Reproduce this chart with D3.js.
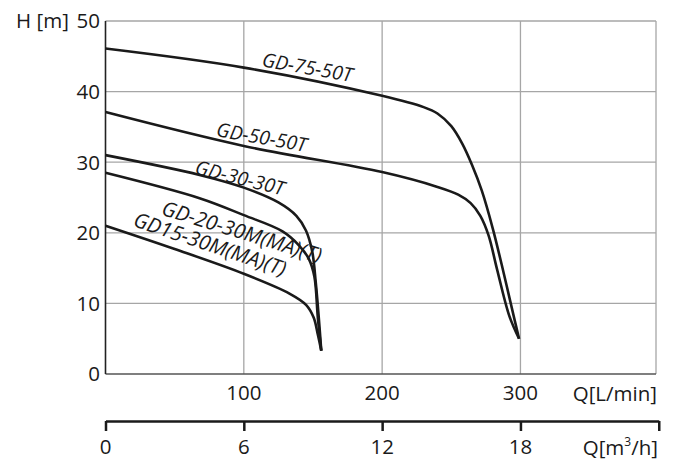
<!DOCTYPE html>
<html>
<head>
<meta charset="utf-8">
<script src="https://cdn.jsdelivr.net/npm/d3@7"></script>
<style>
  html, body { margin: 0; padding: 0; background: #fff; }
  svg { display: block; }
  text { font-family: "Open Sans", "DejaVu Sans", sans-serif; fill: #1a1a1a; }
</style>
</head>
<body>
<svg id="chart" width="676" height="461"></svg>
<script>
// ---- data ----
const hTicks = [0, 10, 20, 30, 40, 50];
const qLminTicks = [100, 200, 300];
const qM3hTicks = [0, 6, 12, 18, 24];
const qM3hLabels = ["0", "6", "12", "18", ""];

const gd75_50T = [[0,46.1],[100,43.4],[200,39.4],[230,37.8],[240,36.9],[250,35.1],[258,32.6],[265,29.6],[272,26.0],[280,20.6],[288,14.2],[295,8.3],[299,5.0]];
const gd50_50T = [[0,37.1],[100,32.3],[200,28.6],[240,26.5],[255,25.4],[264,24.2],[271,22.4],[277,19.6],[283,14.9],[292,8.2],[299,5.0]];
const gd30_30T = [[0,31.0],[68,28.2],[100,26.4],[125,24.3],[138,22.4],[145,20.3],[149.5,17.3],[152,13.0],[154,8.5],[156,3.3]];
const gd20_30M = [[0,28.5],[68,24.9],[100,22.5],[128,20.2],[140,18.2],[147,16.3],[151,13.8],[153.5,8.0],[156,3.3]];
const gd15_30M = [[0,21.0],[50,17.7],[100,14.2],[133,11.4],[145,9.8],[150.5,8.0],[153.5,5.6],[156,3.3]];

const seriesNames = ["GD-75-50T", "GD-50-50T", "GD-30-30T", "GD-20-30M(MA)(T)", "GD15-30M(MA)(T)"];
const seriesData = [gd75_50T, gd50_50T, gd30_30T, gd20_30M, gd15_30M];
// label anchor (in data units), rotation and size
const labelQ = [112.6, 79.6, 64.0, 39.8, 19.3];
const labelH = [43.6, 33.7, 28.4, 22.6, 21.0];
const labelAngle = [10, 10, 14, 17, 18.5];
const labelSize = [19.5, 19.5, 19.5, 20.6, 20.6];

// ---- layout ----
const svg = d3.select("#chart");
const x = d3.scaleLinear().domain([0, 398]).range([105.5, 656]);
const y = d3.scaleLinear().domain([0, 50]).range([374, 21]);
const xm = d3.scaleLinear().domain([0, 24]).range([x(0), x(400)]);
const axis2Y = 421;

// grid
const grid = svg.append("g");
grid.selectAll("line.h").data(hTicks.filter(d => d > 0)).join("line")
  .attr("x1", x(0)).attr("x2", x(398))
  .attr("y1", d => y(d)).attr("y2", d => y(d))
  .attr("stroke", "#a6a6a6").attr("stroke-width", 1.3);
grid.selectAll("line.v").data(qLminTicks.concat([398])).join("line")
  .attr("x1", d => x(d)).attr("x2", d => x(d))
  .attr("y1", y(0)).attr("y2", y(50))
  .attr("stroke", "#a6a6a6").attr("stroke-width", 1.3);
// bottom and left axis lines
svg.append("line").attr("x1", x(0)).attr("x2", x(398)).attr("y1", y(0)).attr("y2", y(0))
  .attr("stroke", "#555").attr("stroke-width", 1.5);
svg.append("line").attr("x1", x(0)).attr("x2", x(0)).attr("y1", y(0)).attr("y2", y(50))
  .attr("stroke", "#222").attr("stroke-width", 1.6);

// y tick labels
svg.append("g").selectAll("text").data(hTicks).join("text")
  .attr("x", 100).attr("y", d => y(d)).attr("dy", "0.36em")
  .attr("text-anchor", "end").attr("font-size", 20.5).text(d => d);
svg.append("text").attr("x", 16).attr("y", y(50)).attr("dy", "0.36em")
  .attr("font-size", 20.5).text("H [m]");

// x tick labels (L/min)
svg.append("g").selectAll("text").data(qLminTicks).join("text")
  .attr("x", d => x(d)).attr("y", 400).attr("text-anchor", "middle")
  .attr("font-size", 20.5).text(d => d);
svg.append("text").attr("x", 657).attr("y", 401).attr("text-anchor", "end")
  .attr("font-size", 20.5).text("Q[L/min]");

// second axis (m3/h)
const ax2 = d3.axisBottom(xm).tickValues(qM3hTicks).tickSize(10).tickSizeOuter(0).tickFormat("");
const g2 = svg.append("g").attr("transform", `translate(0,${axis2Y})`).call(ax2);
g2.select(".domain").attr("stroke", "#1a1a1a").attr("stroke-width", 2.5);
g2.selectAll(".tick line").attr("stroke", "#1a1a1a").attr("stroke-width", 2.5);
svg.append("g").selectAll("text").data(qM3hTicks).join("text")
  .attr("x", d => xm(d)).attr("y", 454).attr("text-anchor", "middle")
  .attr("font-size", 20.5).text((d, i) => qM3hLabels[i]);
const qm = svg.append("text").attr("x", 658).attr("y", 455).attr("text-anchor", "end")
  .attr("font-size", 20.5);
qm.append("tspan").text("Q[m");
qm.append("tspan").attr("font-size", 12).attr("dy", -9).text("3");
qm.append("tspan").attr("dy", 9).text("/h]");

// curves
const line = d3.line().x(d => x(d[0])).y(d => y(d[1])).curve(d3.curveCatmullRom.alpha(0.5));
svg.append("g").selectAll("path").data(seriesData).join("path")
  .attr("d", line).attr("fill", "none")
  .attr("stroke", "#1a1a1a").attr("stroke-width", 2.6)
  .attr("stroke-linejoin", "round");

// curve labels
svg.append("g").selectAll("text").data(seriesNames).join("text")
  .attr("transform", (d, i) => `translate(${x(labelQ[i])},${y(labelH[i])}) rotate(${labelAngle[i]})`)
  .attr("font-size", (d, i) => labelSize[i]).attr("font-style", "italic").text(d => d);
</script>
</body>
</html>
